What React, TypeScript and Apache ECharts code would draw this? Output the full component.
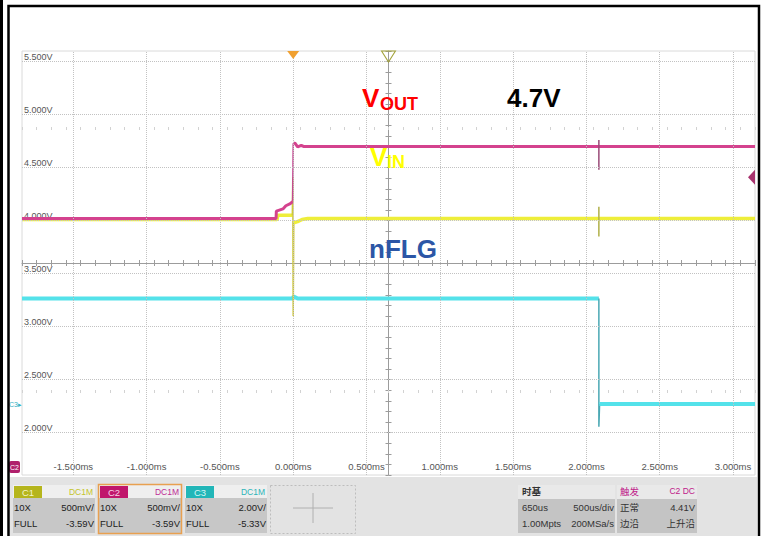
import React, { useEffect, useRef } from 'react';
import * as echarts from 'echarts';

// ---- axis ranges / ticks ----
const timeMin = -1.85;
const timeMax = 3.15;
const voltMin = 1.6;
const voltMax = 5.6;
const timeTicks = [-1.5, -1.0, -0.5, 0, 0.5, 1.0, 1.5, 2.0, 2.5, 3.0];
const voltTicks = [2.0, 2.5, 3.0, 3.5, 4.0, 4.5, 5.0, 5.5];
const centerTime = 0.65;
const trigTime = 0;
const trigLevel = 4.41;

// ---- VOUT (C2, magenta) ----
const voutLow: number[][] = [[-1.85, 4.02], [-0.117, 4.02], [-0.115, 4.09], [-0.07, 4.11], [-0.05, 4.14], [-0.02, 4.16], [-0.004, 4.18]];
const voutEdge: number[][] = [[-0.004, 4.18], [0.0, 4.73], [0.003, 4.73]];
const voutHigh: number[][] = [[0.002, 4.73], [0.012, 4.73], [0.03, 4.695], [0.055, 4.71], [0.07, 4.70], [3.15, 4.70]];
const voutGlitch: number[][] = [[2.085, 4.76], [2.085, 4.48]];

// ---- VIN (C1, yellow) ----
const vinLow: number[][] = [[-1.85, 4.01], [-0.11, 4.01], [-0.105, 4.05], [-0.006, 4.05]];
const vinSpike: number[][] = [[-0.006, 4.05], [-0.003, 4.41], [0.0, 3.10], [0.004, 3.98]];
const vinHigh: number[][] = [[0.004, 3.98], [0.03, 3.99], [0.06, 4.01], [0.1, 4.02], [3.15, 4.02]];
const vinGlitch: number[][] = [[2.085, 4.13], [2.085, 3.85]];

// ---- nFLG (C3, cyan) ----
const nflgHigh: number[][] = [[-1.85, 3.265], [-0.005, 3.265], [0.003, 3.285], [0.03, 3.265], [2.085, 3.265]];
const nflgEdge: number[][] = [[2.085, 3.265], [2.085, 2.056], [2.09, 2.27]];
const nflgLow: number[][] = [[2.088, 2.27], [3.15, 2.27]];

// ---- panel texts ----
const channels = [
  { name: 'C1', coupling: 'DC1M', probe: '10X', scale: '500mV/', bw: 'FULL', offset: '-3.59V' },
  { name: 'C2', coupling: 'DC1M', probe: '10X', scale: '500mV/', bw: 'FULL', offset: '-3.59V' },
  { name: 'C3', coupling: 'DC1M', probe: '10X', scale: '2.00V/', bw: 'FULL', offset: '-5.33V' },
];
const timebase = { title: '时基', delay: '650us', div: '500us/div', pts: '1.00Mpts', rate: '200MSa/s' };
const trigger = { title: '触发', src: 'C2 DC', mode: '正常', level: '4.41V', type: '边沿', slope: '上升沿' };

const FONT = 'Liberation Sans, Arial, sans-serif';
const CJK = 'Noto Sans CJK SC, sans-serif';

function txt(text: string, x: number, y: number, fill: string, opts: any = {}) {
  return {
    type: 'text',
    z: 100,
    style: {
      text, x, y, fill,
      fontSize: opts.size || 9.5,
      fontFamily: opts.family || FONT,
      fontWeight: opts.weight || 'normal',
      align: opts.align || 'left',
      verticalAlign: 'middle',
    },
  };
}

function lineSeries(name: string, data: number[][], color: string, width: number) {
  return {
    name, type: 'line', data, showSymbol: false, symbol: 'none',
    lineStyle: { color, width }, itemStyle: { color },
    xAxisIndex: 0, yAxisIndex: 0, silent: true,
  };
}

export default function App() {
  const ref = useRef<HTMLDivElement>(null);
  useEffect(() => {
    document.body.style.margin = '0';
    const chart = echarts.init(ref.current!, undefined, { renderer: 'svg' });

    const chColors = [
      { bg: '#b5b51c', fg: '#f4f4c8', dc: '#c4c42c' },
      { bg: '#c0166c', fg: '#f8d0e4', dc: '#c02c96' },
      { bg: '#22b6b8', fg: '#d4f6f6', dc: '#2cb4b8' },
    ];
    const boxX = [13, 99, 185];
    const graphics: any[] = [];
    // bottom panel
    graphics.push({ type: 'rect', z: 90, shape: { x: 10, y: 477, width: 747, height: 60 }, style: { fill: '#e3e3e3' } });
    channels.forEach((c, i) => {
      const x0 = boxX[i];
      const col = chColors[i];
      graphics.push({ type: 'rect', z: 95, shape: { x: x0, y: 485, width: 82, height: 13 }, style: { fill: '#efefef' } });
      graphics.push({ type: 'rect', z: 96, shape: { x: x0 + 1, y: 486, width: 28, height: 12 }, style: { fill: col.bg } });
      graphics.push({ type: 'rect', z: 95, shape: { x: x0, y: 498, width: 82, height: 35 }, style: { fill: '#c7c7c7' } });
      graphics.push(txt(c.name, x0 + 15, 492, col.fg, { align: 'center' }));
      graphics.push(txt(c.coupling, x0 + 80, 492, col.dc, { align: 'right', size: 8.5 }));
      graphics.push(txt(c.probe, x0 + 1, 507, '#222'));
      graphics.push(txt(c.scale, x0 + 81, 507, '#222', { align: 'right' }));
      graphics.push(txt(c.bw, x0 + 1, 523, '#222'));
      graphics.push(txt(c.offset, x0 + 81, 523, '#222', { align: 'right' }));
      if (i === 1) {
        graphics.push({ type: 'rect', z: 97, shape: { x: x0 - 0.5, y: 484.5, width: 83, height: 49 }, style: { fill: 'none', stroke: '#e8a050', lineWidth: 1.5 } });
      }
    });
    // dashed add box
    graphics.push({ type: 'rect', z: 95, shape: { x: 270.5, y: 485.5, width: 85, height: 48 }, style: { fill: 'none', stroke: '#bdbdbd', lineWidth: 1, lineDash: [2, 2] } });
    graphics.push({ type: 'line', z: 96, shape: { x1: 293, y1: 508, x2: 333, y2: 508 }, style: { stroke: '#b0b0b0', lineWidth: 1 } });
    graphics.push({ type: 'line', z: 96, shape: { x1: 313, y1: 493, x2: 313, y2: 523 }, style: { stroke: '#b0b0b0', lineWidth: 1 } });
    // timebase box
    graphics.push({ type: 'rect', z: 95, shape: { x: 518, y: 485, width: 97, height: 14 }, style: { fill: '#e9e9e9' } });
    graphics.push({ type: 'rect', z: 95, shape: { x: 518, y: 499, width: 97, height: 34 }, style: { fill: '#c4c4c4' } });
    graphics.push(txt(timebase.title, 522, 491, '#333', { family: CJK, size: 9.5, weight: 'bold' }));
    graphics.push(txt(timebase.delay, 522, 507, '#333'));
    graphics.push(txt(timebase.div, 614, 507, '#333', { align: 'right' }));
    graphics.push(txt(timebase.pts, 522, 523, '#333'));
    graphics.push(txt(timebase.rate, 614, 523, '#333', { align: 'right' }));
    // trigger box
    graphics.push({ type: 'rect', z: 95, shape: { x: 617, y: 485, width: 80, height: 14 }, style: { fill: '#e9e9e9' } });
    graphics.push({ type: 'rect', z: 95, shape: { x: 617, y: 499, width: 80, height: 34 }, style: { fill: '#c4c4c4' } });
    graphics.push(txt(trigger.title, 620, 491, '#c0208a', { family: CJK, size: 9.5 }));
    graphics.push(txt(trigger.src, 695, 491, '#c0208a', { align: 'right', size: 8.5 }));
    graphics.push(txt(trigger.mode, 620, 507, '#333', { family: CJK }));
    graphics.push(txt(trigger.level, 695, 507, '#333', { align: 'right' }));
    graphics.push(txt(trigger.type, 620, 523, '#333', { family: CJK }));
    graphics.push(txt(trigger.slope, 695, 523, '#333', { align: 'right', family: CJK }));
    // left side markers
    graphics.push(txt('C3▸', 9, 404, '#30b0c4', { size: 7 }));
    graphics.push({ type: 'rect', z: 95, shape: { x: 9, y: 461, width: 11, height: 12, r: 2 }, style: { fill: '#b0206c' } });
    graphics.push(txt('C2', 14.5, 467, '#ffffff', { align: 'center', size: 7 }));
    // annotations
    graphics.push(txt('V', 362, 98, '#ff0000', { size: 26, weight: 'bold' }));
    graphics.push(txt('OUT', 380, 103.5, '#ff0000', { size: 18, weight: 'bold' }));
    graphics.push(txt('4.7V', 507, 98, '#000000', { size: 26, weight: 'bold' }));
    graphics.push(txt('V', 370, 157, '#ffff00', { size: 26, weight: 'bold' }));
    graphics.push(txt('IN', 387, 161.5, '#ffff00', { size: 18, weight: 'bold' }));
    graphics.push(txt('nFLG', 369, 249, '#2c56a6', { size: 26, weight: 'bold' }));
    // frame
    graphics.push({ type: 'rect', z: 110, shape: { x: 8.5, y: 6, width: 750.5, height: 540 }, style: { fill: 'none', stroke: '#000', lineWidth: 2.5 } });
    graphics.push({ type: 'line', z: 110, shape: { x1: 1.5, y1: 0, x2: 1.5, y2: 536 }, style: { stroke: '#000', lineWidth: 3 } });

    const centerAxis = (offset: number, inside: boolean, showLine: boolean, color: string, len: number) => ({
      type: 'value', min: timeMin, max: timeMax, interval: 0.1, position: 'bottom', offset,
      axisLine: { show: showLine, lineStyle: { color, width: 1 } },
      axisTick: { show: true, inside, length: len, lineStyle: { color, width: 1 } },
      axisLabel: { show: false }, splitLine: { show: false },
    });
    const centerYAxis = (inside: boolean, showLine: boolean) => ({
      type: 'value', min: voltMin, max: voltMax, interval: 0.1, position: 'left', offset: -366.5,
      axisLine: { show: showLine, lineStyle: { color: '#9c9c9c', width: 1 } },
      axisTick: { show: true, inside, length: 3, lineStyle: { color: '#9c9c9c', width: 1 } },
      axisLabel: { show: false }, splitLine: { show: false },
    });

    chart.setOption({
      animation: false,
      backgroundColor: '#ffffff',
      grid: { left: 22, right: 12, top: 51, bottom: 61, show: true, borderColor: '#dadada', borderWidth: 1, backgroundColor: 'transparent' },
      xAxis: [
        {
          type: 'value', min: timeMin, max: timeMax,
          axisLine: { show: false }, axisTick: { show: false }, splitLine: { show: false },
          axisLabel: {
            inside: true, customValues: timeTicks, margin: 4, fontSize: 9.5, color: '#555', fontFamily: FONT,
            formatter: (v: number) => v.toFixed(3) + 'ms',
          },
        },
        centerAxis(-212, false, true, '#9c9c9c', 3),
        centerAxis(-212, true, false, '#9c9c9c', 3),
        centerAxis(-345, true, false, '#d2d2d2', 3),
        centerAxis(-82, true, false, '#d2d2d2', 3),
      ],
      yAxis: [
        {
          type: 'value', min: voltMin, max: voltMax,
          axisLine: { show: false }, axisTick: { show: false }, splitLine: { show: false },
          axisLabel: {
            inside: true, customValues: voltTicks, margin: 2, fontSize: 9, color: '#555', fontFamily: FONT,
            verticalAlign: 'bottom', formatter: (v: number) => v.toFixed(3) + 'V',
          },
        },
        centerYAxis(false, true),
        centerYAxis(true, false),
      ],
      graphic: { elements: graphics },
      series: [
        {
          name: 'grid', type: 'line', data: [[timeMin, voltMin]], showSymbol: false, symbol: 'none',
          lineStyle: { width: 0 }, silent: true,
          markLine: {
            silent: true, symbol: ['none', 'none'], label: { show: false },
            lineStyle: { type: 'dotted', color: '#c2c2c2', width: 1 },
            data: [...voltTicks.map((v) => ({ yAxis: v })), ...timeTicks.map((t) => ({ xAxis: t }))],
          },
          markPoint: {
            silent: true, label: { show: false },
            data: [
              { coord: [trigTime, voltMax], symbol: 'triangle', symbolSize: [12, 8], symbolRotate: 180, symbolOffset: [0, 4], itemStyle: { color: '#f0a030' } },
              { coord: [centerTime, voltMax], symbol: 'triangle', symbolSize: [14, 11], symbolRotate: 180, symbolOffset: [0, 5.5], itemStyle: { color: 'rgba(0,0,0,0)', borderColor: '#a4a43c', borderWidth: 1 } },
              { coord: [timeMax, trigLevel], symbol: 'triangle', symbolSize: [15, 7], symbolRotate: 90, symbolOffset: [-3.5, 0], itemStyle: { color: '#a8326e' } },
            ],
          },
        },
        lineSeries('nFLG', nflgHigh, '#54e2ea', 4),
        lineSeries('nFLG edge', nflgEdge, '#4aa8b4', 1.5),
        lineSeries('nFLG low', nflgLow, '#54e2ea', 4),
        lineSeries('VIN', vinLow, '#eeee3a', 3.5),
        lineSeries('VIN spike', vinSpike, '#cfc83a', 1.5),
        lineSeries('VIN high', vinHigh, '#eeee3a', 3.5),
        lineSeries('VIN glitch', vinGlitch, '#b0b048', 1.5),
        lineSeries('VOUT', voutLow, '#d4428e', 3),
        lineSeries('VOUT edge', voutEdge, '#c44892', 1.5),
        lineSeries('VOUT high', voutHigh, '#d4428e', 3),
        lineSeries('VOUT glitch', voutGlitch, '#9a4a78', 1.5),
      ],
    });
    return () => chart.dispose();
  }, []);
  return <div ref={ref} style={{ width: 767, height: 536 }} />;
}
